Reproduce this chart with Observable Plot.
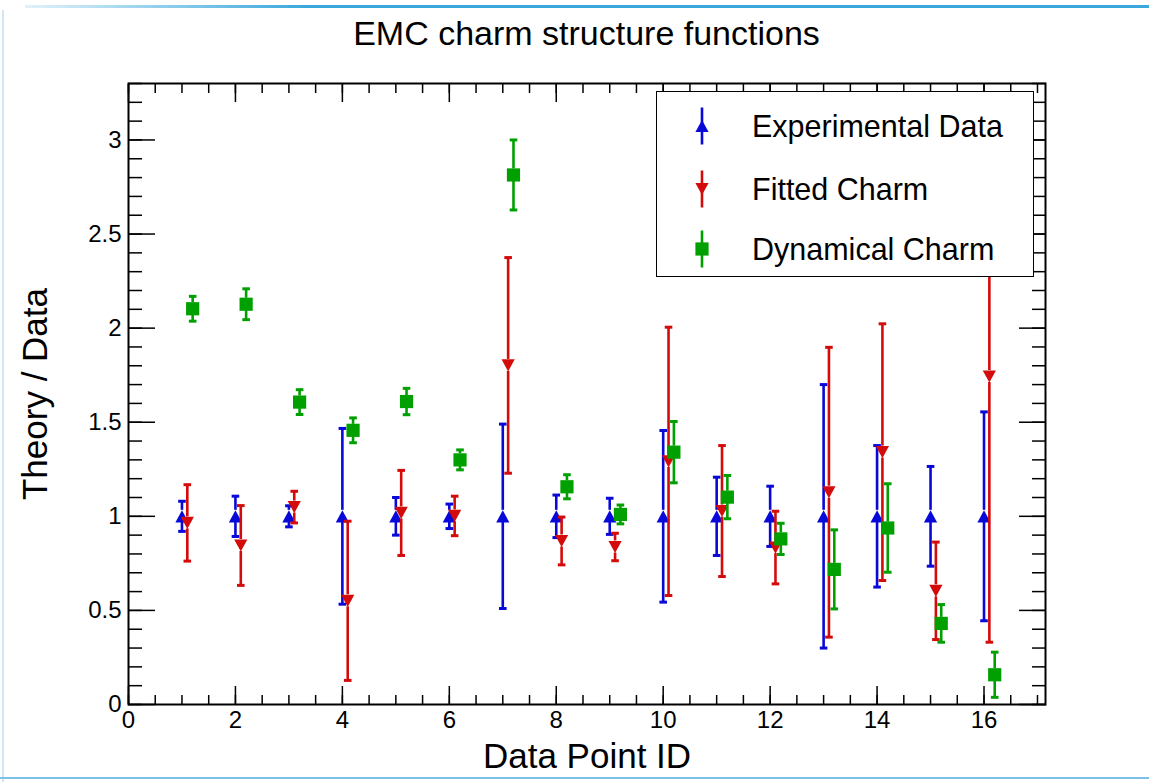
<!DOCTYPE html>
<html>
<head>
<meta charset="utf-8">
<script src="https://cdn.jsdelivr.net/npm/d3@7"></script>
<script src="https://cdn.jsdelivr.net/npm/@observablehq/plot@0.6"></script>
<style>
html,body{margin:0;padding:0;background:#fff;}
body{width:1149px;height:782px;position:relative;overflow:hidden;font-family:"Liberation Sans",Arial,Helvetica,sans-serif;color:#000;}
#title{height:60px;line-height:66px;margin-left:128px;width:917px;text-align:center;font-size:34px;white-space:nowrap;}
#legend{position:absolute;left:656px;top:91px;width:376px;height:184px;border:1.5px solid #000;background:#fff;}
.row{position:absolute;left:0;height:40px;display:flex;align-items:center;white-space:nowrap;}
.row svg{margin-left:35px;margin-right:40px;}
.row span{font-size:30.5px;}
#deco-top{position:absolute;left:25px;top:5px;width:1124px;height:3px;background:linear-gradient(to right,rgba(58,168,220,0.15),#3aa8dc 25%,#3aa8dc);}
#deco-left{position:absolute;left:2px;top:10px;width:2px;height:772px;background:#cfe6f4;}
#deco-bottom{position:absolute;left:0;top:777px;width:1149px;height:2px;background:#7cc2e8;}
</style>
</head>
<body>
<div id="deco-top"></div>
<div id="deco-left"></div>
<div id="deco-bottom"></div>
<div id="title">EMC charm structure functions</div>
<div id="chart"></div>
<div id="legend"></div>
<script>
// ---- data ----
const pointIds = [1, 2, 3, 4, 5, 6, 7, 8, 9, 10, 11, 12, 13, 14, 15, 16];

const seriesNames = ["Experimental Data", "Fitted Charm", "Dynamical Charm"];

const expValues = [1, 1, 1, 1, 1, 1, 1, 1, 1, 1, 1, 1, 1, 1, 1, 1];
const expErrors = [0.08, 0.107, 0.056, 0.467, 0.10, 0.065, 0.49, 0.113, 0.096, 0.456, 0.208, 0.16, 0.70, 0.376, 0.265, 0.555];

const fitValues = [0.965, 0.845, 1.049, 0.551, 1.018, 1.002, 1.802, 0.869, 0.837, 1.292, 1.028, 0.834, 1.128, 1.341, 0.604, 1.743];
const fitErrors = [0.203, 0.212, 0.084, 0.423, 0.226, 0.105, 0.573, 0.127, 0.073, 0.713, 0.348, 0.193, 0.77, 0.682, 0.259, 1.412];

const dynValues = [2.103, 2.127, 1.607, 1.457, 1.61, 1.30, 2.814, 1.157, 1.01, 1.341, 1.102, 0.88, 0.718, 0.938, 0.431, 0.158];
const dynErrors = [0.066, 0.082, 0.066, 0.066, 0.07, 0.053, 0.186, 0.064, 0.05, 0.163, 0.115, 0.083, 0.21, 0.235, 0.10, 0.12];

const xTickLabels = [0, 2, 4, 6, 8, 10, 12, 14, 16];
const yTickLabels = [0, 0.5, 1, 1.5, 2, 2.5, 3];

// ---- styles ----
const symUp = {draw(ctx, size) { const r = Math.sqrt(size / Math.PI); const h = r * 0.92;
  ctx.moveTo(0, -h); ctx.lineTo(r, h); ctx.lineTo(-r, h); ctx.closePath(); }};
const symDown = {draw(ctx, size) { const r = Math.sqrt(size / Math.PI); const h = r * 0.92;
  ctx.moveTo(0, h); ctx.lineTo(r, -h); ctx.lineTo(-r, -h); ctx.closePath(); }};
const symSquare = {draw(ctx, size) { const r = Math.sqrt(size / Math.PI);
  ctx.rect(-r, -r, 2 * r, 2 * r); }};
const symCap = {draw(ctx, size) { const r = Math.sqrt(size / Math.PI);
  ctx.rect(-r, -1.5, 2 * r, 3); }};

const series = [
  {name: seriesNames[0], values: expValues, errors: expErrors, shift: 0.0, color: "#0808d8", symbol: symUp},
  {name: seriesNames[1], values: fitValues, errors: fitErrors, shift: 0.1, color: "#d40b0b", symbol: symDown},
  {name: seriesNames[2], values: dynValues, errors: dynErrors, shift: 0.2, color: "#00a000", symbol: symSquare}
];
series.forEach(s => {
  s.rows = pointIds.map((id, i) => ({id, x: id + s.shift, v: s.values[i], e: s.errors[i]}));
});

const fmt = d3.format("~g");
const marks = [];
const xMajor = d3.range(0, 17.01, 2);
const xMinor = d3.range(0, 17.1, 0.5);
const yMajor = d3.range(0, 3.001, 0.5);
const yMinor = d3.range(0, 3.301, 0.1);
const tickStroke = {strokeWidth: 1.5, fill: "none", label: null};
marks.push(
  Plot.axisX(xMinor, {anchor: "bottom", tickSize: -9, ...tickStroke}),
  Plot.axisX(xMajor, {anchor: "bottom", tickSize: -18, ...tickStroke}),
  Plot.axisX(xMinor, {anchor: "top", tickSize: -9, ...tickStroke}),
  Plot.axisX(xMajor, {anchor: "top", tickSize: -18, ...tickStroke}),
  Plot.axisY(yMinor, {anchor: "left", tickSize: -14, ...tickStroke}),
  Plot.axisY(yMajor, {anchor: "left", tickSize: -27, ...tickStroke}),
  Plot.axisY(yMinor, {anchor: "right", tickSize: -14, ...tickStroke}),
  Plot.axisY(yMajor, {anchor: "right", tickSize: -27, ...tickStroke}),
  Plot.text(xTickLabels, {x: d => d, text: d => fmt(d), frameAnchor: "bottom", lineAnchor: "top", dy: 6, fontSize: 24}),
  Plot.text(yTickLabels, {y: d => d, text: d => fmt(d), frameAnchor: "left", textAnchor: "end", lineAnchor: "middle", dx: -7, fontSize: 24}),
  Plot.text(["Data Point ID"], {text: d => d, frameAnchor: "bottom", lineAnchor: "middle", textAnchor: "middle", dy: 52, fontSize: 35}),
  Plot.text(["Theory / Data"], {text: d => d, frameAnchor: "left", lineAnchor: "middle", textAnchor: "middle", dx: -93, rotate: -90, fontSize: 35})
);

series.forEach(s => {
  marks.push(
    Plot.ruleX(s.rows, {x: "x", y1: d => d.v + d.e, y2: d => d.v, insetBottom: 6, stroke: s.color, strokeWidth: 2.6}),
    Plot.ruleX(s.rows, {x: "x", y1: d => d.v, y2: d => d.v - d.e, insetTop: 6, stroke: s.color, strokeWidth: 2.6}),
    Plot.dot(s.rows, {x: "x", y: d => d.v + d.e, symbol: symCap, r: 3.8, fill: s.color, stroke: "none"}),
    Plot.dot(s.rows, {x: "x", y: d => d.v - d.e, symbol: symCap, r: 3.8, fill: s.color, stroke: "none"}),
    Plot.dot(s.rows, {x: "x", y: "v", symbol: s.symbol, r: 6.6, fill: s.color, stroke: "none"})
  );
});

marks.push(Plot.frame({stroke: "#000", strokeWidth: 2}));

const chart = Plot.plot({
  width: 1149,
  height: 722,
  marginTop: 23,
  marginBottom: 78,
  marginLeft: 128,
  marginRight: 104,
  x: {domain: [0, 17.15]},
  y: {domain: [0, 3.3]},
  style: {fontFamily: "'Liberation Sans', Arial, Helvetica, sans-serif", background: "transparent", color: "#000", overflow: "visible"},
  marks
});
document.getElementById("chart").appendChild(chart);

// ---- legend ----
const legend = document.getElementById("legend");
const rowCenters = [34, 97, 157];
series.forEach((s, i) => {
  const row = document.createElement("div");
  row.className = "row";
  row.style.top = (rowCenters[i] - 20) + "px";
  const svg = d3.create("svg").attr("width", 20).attr("height", 40);
  svg.append("line").attr("x1", 10).attr("x2", 10).attr("y1", 1.5).attr("y2", 38.5)
    .attr("stroke", s.color).attr("stroke-width", 2.6);
  const p = d3.path();
  s.symbol.draw(p, 6.6 * 6.6 * Math.PI);
  svg.append("path").attr("d", p.toString()).attr("transform", "translate(10,20)").attr("fill", s.color);
  row.appendChild(svg.node());
  const span = document.createElement("span");
  span.textContent = s.name;
  row.appendChild(span);
  legend.appendChild(row);
});
</script>
</body>
</html>
